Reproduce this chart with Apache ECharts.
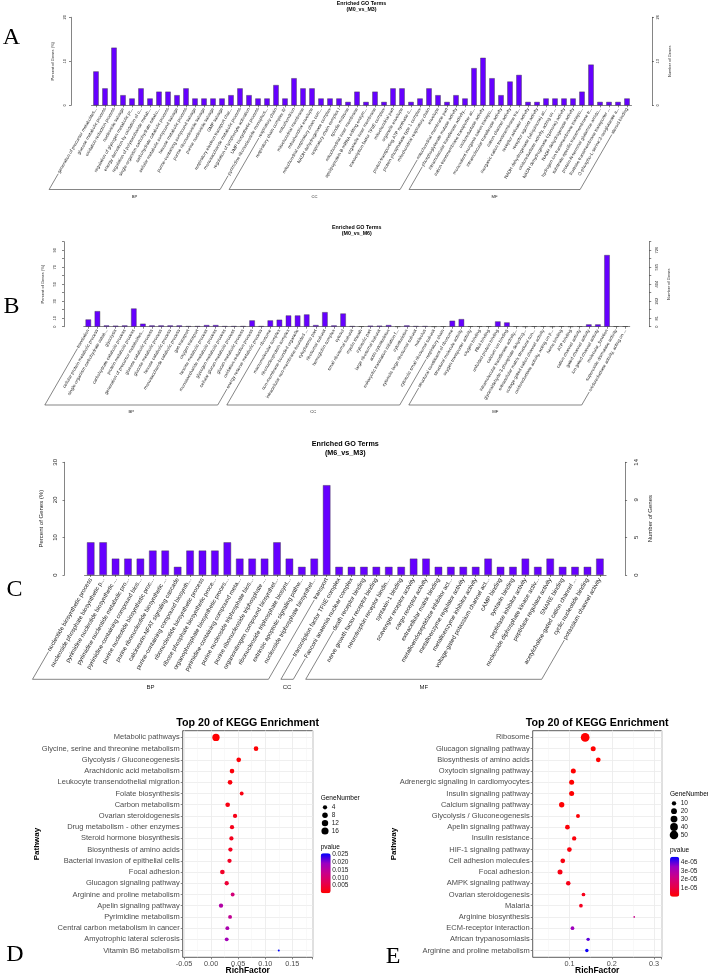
<!DOCTYPE html>
<html>
<head>
<meta charset="utf-8">
<script src="https://cdn.jsdelivr.net/npm/echarts@6/dist/echarts.min.js"></script>
<style>
html, body { margin: 0; padding: 0; background: #fff; }
#main { width: 708px; height: 974px; }
</style>
</head>
<body>
<div id="main"></div>
<script>
// ---------- GO bar charts ----------
// A: M0_vs_M3
const goNamesA = [
  'generation of precursor metabolites...', 'glucose metabolic process', 'oxidation-reduction process',
  'nucleoside salvage', 'regulation of glycogen metabolic pr...', 'energy derivation by oxidation of o...',
  'regulation of polysaccharide metab...', 'single-organism carbohydrate catabo...', 'carbohydrate catabolic process',
  'cellular metabolic compound salvage', 'hexose metabolic process', 'purine-containing compound salvage',
  'purine ribonucleoside salvage', 'purine nucleoside salvage', 'GMP salvage',
  'respiratory electron transport chai...', 'monosaccharide metabolic process', 'regulation of lymphocyte activation',
  'UMP biosynthetic process', 'pyrimidine ribonucleoside monophos...',
  'respiratory chain', 'respiratory chain complex IV', 'mitochondrion', 'mitochondrial membrane',
  'mitochondrial envelope', 'mitochondrial respiratory chain com...', 'NADH dehydrogenase complex',
  'respiratory chain complex I', 'spindle midzone', 'mitochondrial inner membrane',
  'apolipoprotein B mRNA editing enzym...', 'organelle inner membrane', 'transcription factor TFIIE complex',
  'mitochondrial part', 'organelle envelope', 'proton-transporting ATP synthase c...',
  'protein phosphatase type 1 complex', 'mitochondrial respiratory chain', 'envelope', 'mitochondrial membrane part',
  'phosphoglycerate mutase activity', 'intramolecular transferase activity...', 'cation transmembrane transporter ac...',
  'oxidoreductase activity', 'monovalent inorganic cation transpo...', 'intramolecular transferase activity',
  'cation channel activity', 'inorganic cation transmembrane tra...', 'receptor activator activity',
  'receptor agonist activity', 'NADH dehydrogenase (ubiquinone) ac...', 'oxidoreductase activity, acting on ...',
  'NADH dehydrogenase (quinone) activity', 'NADH dehydrogenase activity', 'hydrogen ion transmembrane transpo...',
  'substrate-specific transmembrane tr...', 'protein-N-terminal glutamine amido...', 'fructose transmembrane transporter ...',
  'O-phospho-L-serine:2-oxoglutarate a...', 'steroid binding'
];
const goPercentA = [
  7.7, 3.85, 13.1, 2.3, 1.55, 3.85, 1.55, 3.1, 3.1, 2.3,
  3.85, 1.55, 1.55, 1.55, 1.55, 2.3, 3.85, 2.3, 1.55, 1.55,
  4.6, 1.55, 6.15, 3.85, 3.85, 1.55, 1.55, 1.55, 0.77, 3.1,
  0.77, 3.1, 0.77, 3.85, 3.85, 0.77, 1.55, 3.85, 2.3, 0.77,
  2.3, 1.55, 8.45, 10.8, 6.15, 2.3, 5.4, 6.9, 0.77, 0.77,
  1.55, 1.55, 1.55, 1.55, 3.1, 9.25, 0.77, 0.77, 0.77, 1.55
];
const goGroupsA = [['BP', 20], ['CC', 20], ['MF', 20]];

// B: M0_vs_M6
const goNamesB = [
  'translation', 'cellular protein metabolic process', 'single-organism carbohydrate catab...', 'glycolysis',
  'carbohydrate catabolic process', 'protein metabolic process', 'generation of precursor metabolites...',
  'glucose catabolic process', 'glucose metabolic process', 'hexose catabolic process',
  'monosaccharide catabolic process', 'gas transport', 'oxygen transport', 'hexose metabolic process',
  'monosaccharide metabolic process', 'glycogen metabolic process', 'cellular glucan metabolic process',
  'glucan metabolic process', 'oxidation-reduction process', 'energy reserve metabolic process',
  'ribosome', 'macromolecular complex', 'ribonucleoprotein complex', 'non-membrane-bounded organelle',
  'intracellular non-membrane-bounded ...', 'cytoplasmic part', 'ribosomal subunit', 'hemoglobin complex',
  'cytosol', 'small ribosomal subunit', 'myelin sheath', 'cytosolic part', 'large ribosomal subunit',
  'actin cytoskeleton', 'eukaryotic translation initiation f...', 'cytoskeleton',
  'cytosolic large ribosomal subunit', 'nucleolus', 'cytosolic small ribosomal subunit', 'respiratory chain',
  'structural constituent of ribosome', 'structural molecule activity', 'oxygen transporter activity',
  'oxygen binding', 'RNA binding', 'unfolded protein binding', 'calcium ion binding',
  'intramolecular transferase activity...', 'glyceraldehyde-3-phosphate dehydrog...',
  'extracellular matrix structural con...', 'voltage-gated cation channel activity',
  'oxidoreductase activity, acting on p...', 'heme binding', 'ATP binding', 'cation channel activity',
  'gated channel activity', 'ion gated channel activity', 'molecular_function',
  'superoxide dismutase activity', 'oxidoreductase activity, acting on ...'
];
const goPercentB = [
  8.5, 18.3, 1.5, 1.2, 1.5, 21.4, 3.5, 1.5, 1.5, 1.5,
  1.5, 0.8, 0.8, 1.9, 1.9, 0.8, 0.8, 0.8, 7.4, 0.8,
  7.4, 8.2, 13.2, 13.2, 14.4, 1.9, 17.1, 1.5, 15.5, 0.8,
  0.4, 1.2, 1.2, 1.9, 0.2, 1.5, 0.8, 0.8, 0.2, 0.4,
  7.0, 8.9, 0.4, 0.4, 0.4, 6.2, 5.0, 0.4, 0.1, 0.4,
  0.4, 0.1, 0.4, 0.1, 0.4, 2.7, 2.7, 84.3, 0.4, 0.4
];
const goGroupsB = [['BP', 20], ['CC', 20], ['MF', 20]];

// C: M6_vs_M3
const goNamesC = [
  'nucleotide biosynthetic process', 'nucleoside phosphate biosynthetic p...', 'pyrimidine nucleotide biosynthetic ...',
  'pyrimidine nucleotide metabolic pro...', 'pyrimidine-containing compound bios...', 'purine nucleotide biosynthetic proc...',
  'purine ribonucleotide biosynthetic ...', 'calcineurin-NFAT signaling cascade', 'purine-containing compound biosynth...',
  'ribonucleotide biosynthetic process', 'ribose phosphate biosynthetic proce...', 'organophosphate biosynthetic proces...',
  'pyrimidine-containing compound meta...', 'purine nucleoside triphosphate bios...', 'purine ribonucleoside triphosphate ...',
  'organonitrogen compound biosynthet...', 'ribonucleoside triphosphate biosynt...', 'extrinsic apoptotic signaling pathw...',
  'nucleoside triphosphate biosynthet...', 'transport',
  'transcription factor TFIIE complex', 'Fanconi anaemia nuclear complex',
  'death receptor binding', 'nerve growth factor receptor binding', 'neurotrophin receptor bindin...',
  'syntaxin-1 binding', 'scavenger receptor activity', 'cargo receptor activity', 'extracellular matrix binding',
  'metalloendopeptidase inhibitor act...', 'metalloenzyme regulator activity', 'metalloenzyme inhibitor activity',
  'voltage-gated potassium channel act...', 'cAMP binding', 'syntaxin binding', 'peptidase inhibitor activity',
  'nucleoside diphosphate kinase activ...', 'peptidase regulator activity', 'SNARE binding',
  'acetylcholine-gated cation channel ...', 'cyclic nucleotide binding', 'potassium channel activity'
];
const goPercentC = [
  8.7, 8.7, 4.35, 4.35, 4.35, 6.5, 6.5, 2.17, 6.5, 6.5,
  6.5, 8.7, 4.35, 4.35, 4.35, 8.7, 4.35, 2.17, 4.35, 23.9,
  2.17, 2.17, 2.17, 2.17, 2.17, 2.17, 4.35, 4.35, 2.17, 2.17,
  2.17, 2.17, 4.35, 2.17, 2.17, 4.35, 2.17, 4.35, 2.17, 2.17,
  2.17, 4.35
];
const goGroupsC = [['BP', 20], ['CC', 2], ['MF', 20]];

// ---------- KEGG bubble charts ----------
// D
const keggPathD = [
  'Metabolic pathways', 'Glycine, serine and threonine metabolism', 'Glycolysis / Gluconeogenesis',
  'Arachidonic acid metabolism', 'Leukocyte transendothelial migration', 'Folate biosynthesis',
  'Carbon metabolism', 'Ovarian steroidogenesis', 'Drug metabolism - other enzymes',
  'Steroid hormone biosynthesis', 'Biosynthesis of amino acids', 'Bacterial invasion of epithelial cells',
  'Focal adhesion', 'Glucagon signaling pathway', 'Arginine and proline metabolism',
  'Apelin signaling pathway', 'Pyrimidine metabolism', 'Central carbon metabolism in cancer',
  'Amyotrophic lateral sclerosis', 'Vitamin B6 metabolism'
];
const keggRichD = [0.009, 0.083, 0.051, 0.0386, 0.035, 0.0565, 0.0306, 0.0442, 0.0386, 0.0375,
  0.0357, 0.034, 0.0208, 0.0288, 0.0398, 0.0183, 0.035, 0.030, 0.0288, 0.125];
const keggGenesD = [17, 5, 5, 5, 5, 3, 5, 4, 4, 4, 4, 4, 5, 4, 3, 4, 3, 3, 3, 1];
const keggPvalD = [0.0001, 0.0003, 0.0006, 0.0008, 0.001, 0.0014, 0.0016, 0.0019, 0.0021, 0.0024,
  0.0027, 0.003, 0.0033, 0.0045, 0.011, 0.016, 0.014, 0.017, 0.018, 0.0257];
const sizeLegendD = [4, 8, 12, 16];

// E
const keggPathE = [
  'Ribosome', 'Glucagon signaling pathway', 'Biosynthesis of amino acids', 'Oxytocin signaling pathway',
  'Adrenergic signaling in cardiomyocytes', 'Insulin signaling pathway', 'Calcium signaling pathway',
  'Glycolysis / Gluconeogenesis', 'Apelin signaling pathway', 'Insulin resistance', 'HIF-1 signaling pathway',
  'Cell adhesion molecules', 'Focal adhesion', 'AMPK signaling pathway', 'Ovarian steroidogenesis',
  'Malaria', 'Arginine biosynthesis', 'ECM-receptor interaction', 'African trypanosomiasis',
  'Arginine and proline metabolism'
];
const keggRichE = [0.137, 0.156, 0.168, 0.109, 0.105, 0.105, 0.0815, 0.120, 0.095, 0.111,
  0.0997, 0.084, 0.0775, 0.097, 0.133, 0.127, 0.253, 0.107, 0.144, 0.141];
const keggGenesE = [52, 14, 12, 14, 14, 14, 16, 8, 12, 10, 12, 12, 14, 11, 7, 7, 3, 7, 6, 6];
const keggPvalE = [1e-12, 2e-9, 5e-9, 1e-7, 2e-7, 3e-7, 5e-7, 8e-7, 1e-6, 1.5e-6,
  2e-6, 2.5e-6, 3e-6, 3.5e-6, 4e-6, 5e-6, 2.4e-5, 3.4e-5, 4.0e-5, 4.6e-5];
const sizeLegendE = [10, 20, 30, 40, 50];

const FONT = '"Liberation Sans", Arial, Helvetica, sans-serif';
const SERIF = '"Liberation Serif", "Times New Roman", serif';
const BAR = '#6600ff';
const AX = '#333';
const TXT = '#222';
// red -> blue, roughly as ggplot interpolates it
const GRAD = ['#ff0000', '#e5004d', '#ca0089', '#9a00c3', '#0000ff'];

const chart = echarts.init(document.getElementById('main'));

const option = {
  animation: false,
  backgroundColor: '#fff',
  textStyle: { fontFamily: FONT },
  grid: [], xAxis: [], yAxis: [], series: [], visualMap: []
};
const texts = [];

function txt (x, y, s, size, extra) {
  texts.push({
    type: 'text', x: x, y: y, silent: true,
    style: Object.assign({
      text: s, fontSize: size, fontFamily: FONT, fill: '#000',
      textAlign: 'center', textVerticalAlign: 'middle', align: 'center', verticalAlign: 'middle'
    }, extra || {})
  });
}

// a grid whose axes are not drawn
function hiddenAxes (gi, xr, yr) {
  option.xAxis.push({ type: 'value', gridIndex: gi, min: xr[0], max: xr[1], show: false });
  option.yAxis.push({ type: 'value', gridIndex: gi, min: yr[0], max: yr[1], show: false });
}

function addGo (p) {
  const gi = option.grid.length;
  option.grid.push({ left: p.left, top: p.top, width: p.width, height: p.height, outerBoundsMode: 'none' });
  const xi = option.xAxis.length;
  option.xAxis.push({
    type: 'category', gridIndex: gi, data: p.names,
    axisLine: { show: true, lineStyle: { color: AX, width: 0.6 } },
    axisTick: { show: true, alignWithLabel: true, length: 2, lineStyle: { color: AX, width: 0.6 } },
    axisLabel: { interval: 0, rotate: 60, fontSize: p.fs, color: TXT, margin: p.lm },
    splitLine: { show: false }
  });
  const yi = option.yAxis.length;
  const common = {
    type: 'value', gridIndex: gi, min: 0,
    axisLine: { show: true, lineStyle: { color: AX, width: 0.6 } },
    axisTick: { show: true, length: 2, lineStyle: { color: AX, width: 0.6 } },
    splitLine: { show: false },
    nameLocation: 'middle', nameRotate: 90,
    nameTextStyle: { fontSize: p.nameFs, color: TXT }
  };
  option.yAxis.push(Object.assign({}, common, {
    position: 'left', offset: p.offL, max: p.yMax, interval: p.yInt,
    axisLabel: { rotate: 90, fontSize: p.axFs, color: TXT, margin: p.mL,
      formatter: (v, i) => p.showTick(i) ? String(v) : '' },
    name: 'Percent of Genes (%)', nameGap: p.gapL
  }));
  option.yAxis.push(Object.assign({}, common, {
    position: 'right', offset: p.offR, max: p.nMax, interval: p.nMax * p.yInt / p.yMax,
    axisLabel: { rotate: 90, fontSize: p.axFs, color: TXT, margin: p.mR,
      formatter: (v, i) => p.showTick(i) ? String(Math.round(v)) : '' },
    name: 'Number of Genes', nameGap: p.gapR
  }));
  option.series.push({
    type: 'bar', xAxisIndex: xi, yAxisIndex: yi, data: p.values, silent: true,
    barCategoryGap: '40%',
    itemStyle: { color: BAR, borderColor: '#3a3a3a', borderWidth: 0.4 }
  });
  const cx = p.left + p.width / 2;
  txt(cx, p.titleY[0], 'Enriched GO Terms', p.titleFs, { fontWeight: 'bold' });
  txt(cx, p.titleY[1], p.sub, p.titleFs, { fontWeight: 'bold' });
  p.xi = xi; p.yi = yi;
}

function sizeOf (n, lo, hi, s0, span) {
  return s0 + span * Math.sqrt(Math.max(0, (n - lo) / (hi - lo)));
}

function addKegg (p) {
  const px = v => p.left + (v - p.xMin) / (p.xMax - p.xMin) * p.width;
  const right = p.left + p.width;
  // panel frame
  let gi = option.grid.length;
  option.grid.push({ left: p.left, top: p.top, width: p.width, height: p.height, outerBoundsMode: 'none',
    show: true, borderColor: '#333', borderWidth: 0.8 });
  hiddenAxes(gi, [0, 1], [0, 1]);
  // minor vertical grid lines
  gi = option.grid.length;
  option.grid.push({ left: px(p.minorStart), top: p.top, width: right - px(p.minorStart), height: p.height, outerBoundsMode: 'none' });
  option.xAxis.push({
    type: 'value', gridIndex: gi, min: p.minorStart, max: p.xMax, interval: p.xInt / 2,
    axisLine: { show: false, onZero: false }, axisTick: { show: false }, axisLabel: { show: false },
    splitLine: { show: true, lineStyle: { color: '#f2f2f2', width: 0.5 } }
  });
  option.yAxis.push({ type: 'value', gridIndex: gi, min: 0, max: 1, show: false });
  // major vertical grid lines, ticks and labels
  gi = option.grid.length;
  option.grid.push({ left: px(p.majorStart), top: p.top, width: right - px(p.majorStart), height: p.height, outerBoundsMode: 'none' });
  option.xAxis.push({
    type: 'value', gridIndex: gi, position: 'bottom', min: p.majorStart, max: p.xMax, interval: p.xInt,
    axisLine: { show: false, onZero: false },
    axisTick: { show: true, length: 2, lineStyle: { color: '#333', width: 0.6 } },
    axisLabel: { fontSize: 7.3, color: '#4d4d4d', margin: 3,
      formatter: v => {
        const k = Math.round(v / p.xInt);
        return Math.abs(v - k * p.xInt) < 1e-9 ? (k * p.xInt).toFixed(p.xDec) : '';
      } },
    splitLine: { show: true, lineStyle: { color: '#ebebeb', width: 0.8 } }
  });
  option.yAxis.push({ type: 'value', gridIndex: gi, min: 0, max: 1, show: false });
  // rows: discrete scale with ggplot's 0.6 expansion
  const n = p.names.length;
  const step = p.height / (n - 1 + 1.2);
  gi = option.grid.length;
  option.grid.push({ left: p.left, top: p.top + 0.6 * step, width: p.width, height: (n - 1) * step, outerBoundsMode: 'none' });
  const xi = option.xAxis.length;
  option.xAxis.push({ type: 'value', gridIndex: gi, min: p.xMin, max: p.xMax, show: false,
    axisLine: { onZero: false } });
  const yi = option.yAxis.length;
  option.yAxis.push({
    type: 'value', gridIndex: gi, position: 'left', inverse: true, min: 0, max: n - 1, interval: 1,
    axisLine: { show: false, onZero: false },
    axisTick: { show: true, length: 2, lineStyle: { color: '#333', width: 0.6 } },
    axisLabel: { fontSize: 7.5, color: '#4d4d4d', margin: 3,
      formatter: v => p.names[Math.round(v)] || '' },
    splitLine: { show: true, lineStyle: { color: '#ebebeb', width: 0.8 } }
  });
  const si = option.series.length;
  option.series.push({
    type: 'scatter', xAxisIndex: xi, yAxisIndex: yi, silent: true, clip: false,
    data: p.names.map((nm, i) => [p.rich[i], i, p.pval[i], p.genes[i]]),
    symbolSize: d => sizeOf(d[3], p.gLo, p.gHi, p.s0, p.span),
    itemStyle: { opacity: 1 }
  });
  option.visualMap.push({
    type: 'continuous', seriesIndex: si, dimension: 2, min: 0, max: p.pMax,
    left: p.barX, top: p.barY, itemWidth: p.barW, itemHeight: 40, padding: 0,
    calculable: false, hoverLink: false, orient: 'vertical',
    inRange: { color: GRAD }
  });
  // colour bar labels
  const cg = option.grid.length;
  option.grid.push({ left: p.barX, top: p.barY, width: p.barW, height: 40, outerBoundsMode: 'none' });
  option.xAxis.push({ type: 'value', gridIndex: cg, min: 0, max: 1, show: false });
  option.yAxis.push({
    type: 'value', gridIndex: cg, position: 'right', min: 0, max: p.pMax, interval: p.pInt,
    axisLine: { show: false, onZero: false }, axisTick: { show: false }, splitLine: { show: false },
    axisLabel: { fontSize: 6.5, color: '#222', margin: 1.5,
      formatter: v => {
        const k = Math.round(v / p.pInt);
        return k > 0 && Math.abs(v - k * p.pInt) < p.pInt * 1e-6 ? p.pFmt(k * p.pInt, k) : '';
      } }
  });
  // size legend
  const lg = option.grid.length;
  const nL = p.legend.length;
  option.grid.push({ left: p.legX - 4, top: p.legY, width: 8, height: p.legStep * (nL - 1), outerBoundsMode: 'none' });
  const lx = option.xAxis.length;
  option.xAxis.push({ type: 'value', gridIndex: lg, min: 0, max: 1, show: false });
  const ly = option.yAxis.length;
  option.yAxis.push({
    type: 'value', gridIndex: lg, position: 'right', inverse: true, min: 0, max: nL - 1, interval: 1,
    axisLine: { show: false, onZero: false }, axisTick: { show: false }, splitLine: { show: false },
    axisLabel: { fontSize: 6.5, color: '#222', margin: 2.7, formatter: v => String(p.legend[Math.round(v)]) }
  });
  option.series.push({
    type: 'scatter', xAxisIndex: lx, yAxisIndex: ly, silent: true, clip: false,
    data: p.legend.map((g, i) => [0.5, i, g]),
    symbolSize: d => sizeOf(d[2], p.gLo, p.gHi, p.s0, p.span),
    itemStyle: { color: '#000', opacity: 1 }
  });
  const cx = p.left + p.width / 2;
  txt(cx, p.top - 8, 'Top 20 of KEGG Enrichment', 10.7, { fontWeight: 'bold' });
  txt(cx, p.top + p.height + 13.5, 'RichFactor', 8.5, { fontWeight: 'bold' });
  texts.push({ type: 'text', x: p.pathX, y: p.top + p.height / 2, rotation: Math.PI / 2, silent: true,
    style: { text: 'Pathway', fontSize: 8, fontWeight: 'bold', fontFamily: FONT, fill: '#000',
      textAlign: 'center', textVerticalAlign: 'middle', align: 'center', verticalAlign: 'middle' } });
  txt(p.barX, p.legY - 9.3, 'GeneNumber', 6.5, { textAlign: 'left', align: 'left' });
  txt(p.barX, p.barY - 6, 'pvalue', 6.5, { textAlign: 'left', align: 'left' });
}

const goPanels = [
  { names: goNamesA, values: goPercentA, groups: goGroupsA, sub: '(M0_vs_M3)',
    left: 91.5, top: 17.3, width: 540, height: 88, yMax: 20, yInt: 10, nMax: 26,
    offL: 20.5, offR: 20.5, fs: 4.5, lm: 3, axFs: 4, nameFs: 4, mL: 4.5, mR: 3.5, gapL: 9.5, gapR: 9.5,
    titleFs: 5.3, titleY: [3.6, 9.6], yb: 189.5, groupDy: 7, groupFs: 4.2, showTick: () => true },
  { names: goNamesB, values: goPercentB, groups: goGroupsB, sub: '(M0_vs_M6)',
    left: 83.75, top: 241.7, width: 546, height: 85, yMax: 100, yInt: 10, nMax: 807,
    offL: 19.75, offR: 19.5, fs: 4.5, lm: 3, axFs: 4, nameFs: 4, mL: 7, mR: 6, gapL: 12, gapR: 12,
    titleFs: 5.3, titleY: [227.3, 233.7], yb: 405, groupDy: 7.3, groupFs: 4.2,
    showTick: i => i === 0 || i % 2 === 1 },
  { names: goNamesC, values: goPercentC, groups: goGroupsC, sub: '(M6_vs_M3)',
    left: 84.5, top: 462.3, width: 521.6, height: 112.7, yMax: 30, yInt: 10, nMax: 13.8,
    offL: 20, offR: 19, fs: 6, lm: 3.5, axFs: 6, nameFs: 6, mL: 6.5, mR: 8, gapL: 13, gapR: 15,
    titleFs: 7.2, titleY: [444.3, 452.8], yb: 679.3, groupDy: 8.4, groupFs: 6, showTick: () => true }
];
goPanels.forEach(addGo);

const keggPanels = [
  { names: keggPathD, rich: keggRichD, genes: keggGenesD, pval: keggPvalD, legend: sizeLegendD,
    left: 182.7, top: 730.7, width: 130, height: 226.6, xMin: -0.0525, xMax: 0.1877, xInt: 0.05, xDec: 2,
    majorStart: -0.05, minorStart: -0.05,
    gLo: 1, gHi: 17, s0: 2, span: 5.3, pMax: 0.0257, pInt: 0.005, pFmt: v => v.toFixed(3),
    barX: 320.7, barY: 853.3, barW: 10, legX: 325, legY: 807.3, legStep: 7.9, pathX: 36.7 },
  { names: keggPathE, rich: keggRichE, genes: keggGenesE, pval: keggPvalE, legend: sizeLegendE,
    left: 532.7, top: 730.7, width: 129, height: 226.6, xMin: 0.0129, xMax: 0.318, xInt: 0.1, xDec: 1,
    majorStart: 0.1, minorStart: 0.05,
    gLo: 3, gHi: 52, s0: 1.7, span: 7, pMax: 4.7e-5, pInt: 1e-5, pFmt: (v, k) => k + 'e-05',
    barX: 670, barY: 856.7, barW: 9.3, legX: 674, legY: 803.3, legStep: 7.9, pathX: 393.3 }
];
keggPanels.forEach(addKegg);

// panel letters
[['A', 11.5, 37.5], ['B', 11.5, 306.5], ['C', 14.5, 590], ['D', 15, 955], ['E', 393, 957]].forEach(l => {
  txt(l[1], l[2], l[0], 24, { fontFamily: SERIF });
});

chart.setOption(option);

// category brackets (BP / CC / MF) drawn under the rotated labels
function brackets (p) {
  const out = [];
  const ctx = document.createElement('canvas').getContext('2d');
  ctx.font = p.fs + 'px ' + FONT;
  const yBase = chart.convertToPixel({ yAxisIndex: p.yi }, 0);
  const ay = yBase + p.lm;
  const ang = 60 * Math.PI / 180;
  const cs = Math.cos(ang), sn = Math.sin(ang);
  let start = 0;
  p.groups.forEach(g => {
    const idx = [start, start + g[1] - 1];
    start += g[1];
    const ends = idx.map(i => {
      const ax = chart.convertToPixel({ xAxisIndex: p.xi }, i);
      const d = (p.yb - ay) / sn;
      const w = Math.min(ctx.measureText(p.names[i]).width + 1, d);
      return { corner: [ax - d * cs, p.yb], tip: [ax - w * cs, ay + w * sn] };
    });
    out.push({ type: 'polyline', silent: true,
      shape: { points: [ends[0].tip, ends[0].corner, ends[1].corner, ends[1].tip] },
      style: { stroke: '#333', lineWidth: 0.6, fill: null } });
    out.push({ type: 'text', silent: true, x: (ends[0].corner[0] + ends[1].corner[0]) / 2, y: p.yb + p.groupDy,
      style: { text: g[0], fontSize: p.groupFs, fontFamily: FONT, fill: '#222',
        textAlign: 'center', textVerticalAlign: 'middle', align: 'center', verticalAlign: 'middle' } });
  });
  return out;
}

let extra = [];
goPanels.forEach(p => { extra = extra.concat(brackets(p)); });
chart.setOption({ graphic: texts.concat(extra) });
</script>
</body>
</html>
